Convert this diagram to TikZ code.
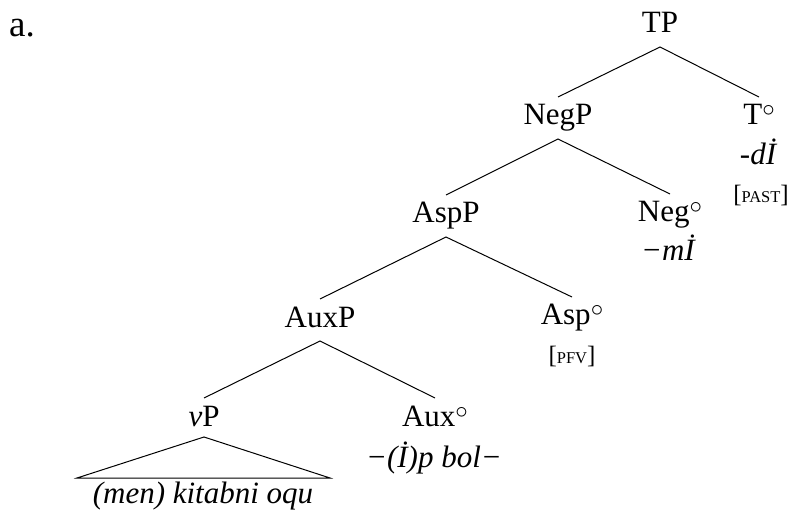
\documentclass[tikz,border=0pt]{standalone}
\usepackage{fontspec}
\setmainfont{Liberation Serif}
\newcommand{\treesize}{\fontsize{31}{36}\selectfont}
\newcommand{\featsize}{\fontsize{16.5}{19}\selectfont}
\newcommand{\brsize}{\fontsize{25}{28}\selectfont}
\newcommand{\feat}[1]{{\brsize[}{\featsize #1}{\brsize]}}
% head marker: a raised ring after the category label
\newcommand{\hd}{\raisebox{8pt}{\fontsize{27}{30}\selectfont$\circ$}}
\begin{document}
\begin{tikzpicture}[x=1pt,y=-1pt,
  lbl/.style={anchor=base, inner sep=0pt, font=\treesize},
  gloss/.style={anchor=base, inner sep=0pt, font=\treesize\itshape},
  featlbl/.style={anchor=base, inner sep=0pt},
  branch/.style={line width=1pt}]
\useasboundingbox (0,0) rectangle (788,513);

% example label
\node[anchor=base west, inner sep=0pt, font=\fontsize{37}{40}\selectfont] (ex) at (9,37) {a.};

% phrase labels and heads
\node[lbl] (TP)   at (660,33)  {TP};
\node[lbl] (NegP) at (558,125) {NegP};
\node[lbl] (T)    at (759,125) {T\hd};
\node[gloss] (Tm) at (758,165) {-dİ};
\node[featlbl] (Tf) at (761,203) {\feat{PAST}};
\node[lbl] (AspP) at (446,223) {AspP};
\node[lbl] (Neg)  at (670,222) {Neg\hd};
\node[gloss] (Negm) at (668,261) {−mİ};
\node[lbl] (AuxP) at (320,327) {AuxP};
\node[lbl] (Asp)  at (572,325) {Asp\hd};
\node[featlbl] (Aspf) at (572,363) {\feat{PFV}};
\node[lbl] (vP)   at (204,426) {\textit{v}P};
\node[lbl] (Aux)  at (435,426) {Aux\hd};
\node[gloss] (Auxm) at (434,467) {−(İ)p bol−};
\node[gloss] (vPm) at (203,503) {(men) kitabni oqu};

% branches: from just under the mother to just above each daughter
\foreach \m/\a/\b in {TP/NegP/T, NegP/AspP/Neg, AspP/AuxP/Asp, AuxP/vP/Aux}{
  \draw[branch] ([yshift=28pt]\a.base) -- ([yshift=-14pt]\m.base) -- ([yshift=28pt]\b.base);
}

% triangle over the vP content
\coordinate (triL) at (77,478);
\coordinate (triR) at (330,478);
\draw[branch] (triL) -- ([yshift=-11pt]vP.base) -- (triR) -- cycle;
\end{tikzpicture}
\end{document}
